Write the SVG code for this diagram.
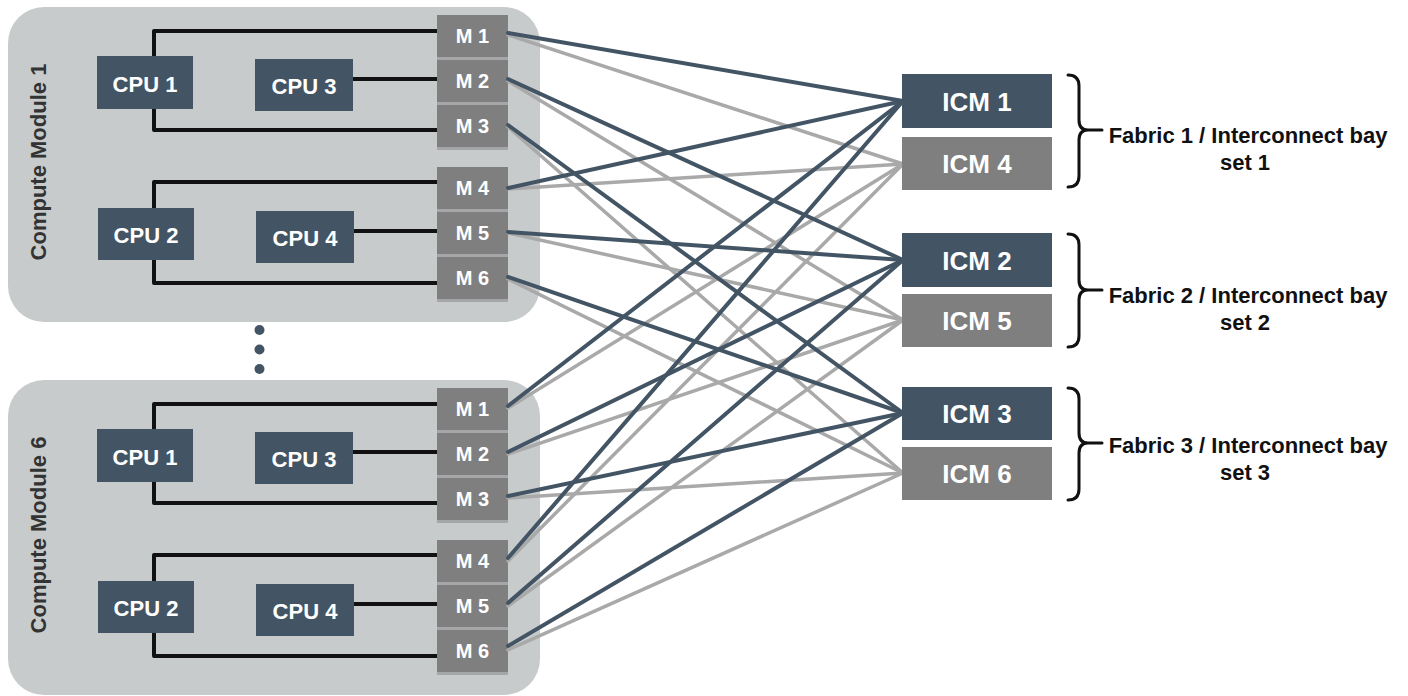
<svg xmlns="http://www.w3.org/2000/svg" width="1408" height="696" viewBox="0 0 1408 696">
  <style>
    .module { fill: #c8cbcc; }
    .cpu { fill: #435564; }
    .port { fill: #7f7f7f; }
    .port-shadow { fill: #a4a6a7; }
    .icm-a { fill: #435564; }
    .icm-b { fill: #7f7f7f; }
    .bus { fill: none; stroke: #111111; stroke-width: 4; stroke-linejoin: round; }
    .lbl { font-family: "Liberation Sans", Arial, sans-serif; font-weight: bold; fill: #ffffff; text-anchor: middle; }
    .cpu-t { font-size: 22px; }
    .port-t { font-size: 20px; }
    .icm-t { font-size: 26px; }
    .mod-t { font-family: "Liberation Sans", Arial, sans-serif; font-weight: bold; font-size: 22px; fill: #333333; text-anchor: middle; }
    .fab-t { font-family: "Liberation Sans", Arial, sans-serif; font-weight: bold; font-size: 22px; fill: #111111; text-anchor: middle; }
    .brace { fill: none; stroke: #111111; stroke-width: 3; stroke-linecap: round; stroke-linejoin: round; }
    .wire-dark { stroke: #435564; stroke-width: 4; stroke-linecap: round; }
    .wire-light { stroke: #a9a9a9; stroke-width: 3.5; stroke-linecap: round; }
    .dot { fill: #435564; }
  </style>
  <defs>
    <!-- one compute module: chassis and the buses from CPUs to mezzanine ports -->
    <g id="module-body">
      <rect class="module" x="8" y="7" width="532" height="315" rx="36" ry="36"/>
      <path class="bus" d="M437,31 H154 V60"/>
      <path class="bus" d="M154,105 V130 H437"/>
      <path class="bus" d="M350,79 H437"/>
      <path class="bus" d="M437,182 H154 V212"/>
      <path class="bus" d="M154,256 V283 H437"/>
      <path class="bus" d="M350,231 H437"/>
    </g>
  </defs>

  <!-- Compute Module 1 -->
  <g id="compute-module-1">
    <use href="#module-body"/>
    <text class="mod-t" transform="translate(45.5,162) rotate(-90)">Compute Module 1</text>
    <g id="cm1-cpu1"><rect class="cpu" x="97" y="56" width="96" height="53"/><text class="lbl cpu-t" x="145" y="91.5">CPU 1</text></g>
    <g id="cm1-cpu3"><rect class="cpu" x="255" y="59" width="98" height="52"/><text class="lbl cpu-t" x="304" y="94">CPU 3</text></g>
    <g id="cm1-cpu2"><rect class="cpu" x="98" y="208" width="96" height="52"/><text class="lbl cpu-t" x="146" y="243">CPU 2</text></g>
    <g id="cm1-cpu4"><rect class="cpu" x="256" y="211" width="98" height="52"/><text class="lbl cpu-t" x="305" y="246">CPU 4</text></g>
    <g id="cm1-m1"><rect class="port-shadow" x="437" y="17" width="71" height="43"/><rect class="port" x="437" y="15" width="71" height="42"/><text class="lbl port-t" x="472.5" y="43">M 1</text></g>
    <g id="cm1-m2"><rect class="port-shadow" x="437" y="62" width="71" height="43"/><rect class="port" x="437" y="60" width="71" height="42"/><text class="lbl port-t" x="472.5" y="88">M 2</text></g>
    <g id="cm1-m3"><rect class="port-shadow" x="437" y="107" width="71" height="43"/><rect class="port" x="437" y="105" width="71" height="42"/><text class="lbl port-t" x="472.5" y="133">M 3</text></g>
    <g id="cm1-m4"><rect class="port-shadow" x="437" y="169" width="71" height="43"/><rect class="port" x="437" y="167" width="71" height="42"/><text class="lbl port-t" x="472.5" y="195">M 4</text></g>
    <g id="cm1-m5"><rect class="port-shadow" x="437" y="214" width="71" height="43"/><rect class="port" x="437" y="212" width="71" height="42"/><text class="lbl port-t" x="472.5" y="240">M 5</text></g>
    <g id="cm1-m6"><rect class="port-shadow" x="437" y="259" width="71" height="43"/><rect class="port" x="437" y="257" width="71" height="42"/><text class="lbl port-t" x="472.5" y="285">M 6</text></g>
  </g>

  <!-- ellipsis between modules -->
  <g id="ellipsis">
    <circle class="dot" cx="259.5" cy="330" r="5"/>
    <circle class="dot" cx="259.5" cy="349.5" r="5"/>
    <circle class="dot" cx="259.5" cy="369" r="5"/>
  </g>

  <!-- Compute Module 6 -->
  <g id="compute-module-6" transform="translate(0,373)">
    <use href="#module-body"/>
    <text class="mod-t" transform="translate(45.5,162) rotate(-90)">Compute Module 6</text>
    <g id="cm6-cpu1"><rect class="cpu" x="97" y="56" width="96" height="53"/><text class="lbl cpu-t" x="145" y="91.5">CPU 1</text></g>
    <g id="cm6-cpu3"><rect class="cpu" x="255" y="59" width="98" height="52"/><text class="lbl cpu-t" x="304" y="94">CPU 3</text></g>
    <g id="cm6-cpu2"><rect class="cpu" x="98" y="208" width="96" height="52"/><text class="lbl cpu-t" x="146" y="243">CPU 2</text></g>
    <g id="cm6-cpu4"><rect class="cpu" x="256" y="211" width="98" height="52"/><text class="lbl cpu-t" x="305" y="246">CPU 4</text></g>
    <g id="cm6-m1"><rect class="port-shadow" x="437" y="17" width="71" height="43"/><rect class="port" x="437" y="15" width="71" height="42"/><text class="lbl port-t" x="472.5" y="43">M 1</text></g>
    <g id="cm6-m2"><rect class="port-shadow" x="437" y="62" width="71" height="43"/><rect class="port" x="437" y="60" width="71" height="42"/><text class="lbl port-t" x="472.5" y="88">M 2</text></g>
    <g id="cm6-m3"><rect class="port-shadow" x="437" y="107" width="71" height="43"/><rect class="port" x="437" y="105" width="71" height="42"/><text class="lbl port-t" x="472.5" y="133">M 3</text></g>
    <g id="cm6-m4"><rect class="port-shadow" x="437" y="169" width="71" height="43"/><rect class="port" x="437" y="167" width="71" height="42"/><text class="lbl port-t" x="472.5" y="195">M 4</text></g>
    <g id="cm6-m5"><rect class="port-shadow" x="437" y="214" width="71" height="43"/><rect class="port" x="437" y="212" width="71" height="42"/><text class="lbl port-t" x="472.5" y="240">M 5</text></g>
    <g id="cm6-m6"><rect class="port-shadow" x="437" y="259" width="71" height="43"/><rect class="port" x="437" y="257" width="71" height="42"/><text class="lbl port-t" x="472.5" y="285">M 6</text></g>
  </g>

  <!-- port-to-interconnect links: light to ICM 4/5/6, dark to ICM 1/2/3 -->
  <g id="connectors">
    <line class="wire-light" x1="508" y1="35" x2="903" y2="164"/>
    <line class="wire-light" x1="508" y1="81" x2="903" y2="320"/>
    <line class="wire-light" x1="508" y1="127" x2="903" y2="473"/>
    <line class="wire-light" x1="508" y1="189" x2="903" y2="164"/>
    <line class="wire-light" x1="508" y1="233" x2="903" y2="320"/>
    <line class="wire-light" x1="508" y1="279" x2="903" y2="473"/>
    <line class="wire-light" x1="508" y1="408" x2="903" y2="164"/>
    <line class="wire-light" x1="508" y1="454" x2="903" y2="320"/>
    <line class="wire-light" x1="508" y1="498" x2="903" y2="473"/>
    <line class="wire-light" x1="508" y1="561" x2="903" y2="164"/>
    <line class="wire-light" x1="508" y1="606" x2="903" y2="320"/>
    <line class="wire-light" x1="508" y1="650" x2="903" y2="473"/>

    <line class="wire-dark" x1="508" y1="33" x2="903" y2="101"/>
    <line class="wire-dark" x1="508" y1="79" x2="903" y2="260"/>
    <line class="wire-dark" x1="508" y1="125" x2="903" y2="413"/>
    <line class="wire-dark" x1="508" y1="188" x2="903" y2="101"/>
    <line class="wire-dark" x1="508" y1="232" x2="903" y2="260"/>
    <line class="wire-dark" x1="508" y1="277" x2="903" y2="413"/>
    <line class="wire-dark" x1="508" y1="406" x2="903" y2="101"/>
    <line class="wire-dark" x1="508" y1="452" x2="903" y2="260"/>
    <line class="wire-dark" x1="508" y1="496" x2="903" y2="413"/>
    <line class="wire-dark" x1="508" y1="558" x2="903" y2="101"/>
    <line class="wire-dark" x1="508" y1="603" x2="903" y2="260"/>
    <line class="wire-dark" x1="508" y1="646" x2="903" y2="413"/>
  </g>

  <!-- interconnect modules -->
  <g id="icm1"><rect class="icm-a" x="902" y="74" width="150" height="54"/><text class="lbl icm-t" x="977" y="111">ICM 1</text></g>
  <g id="icm4"><rect class="icm-b" x="902" y="137" width="150" height="53"/><text class="lbl icm-t" x="977" y="173">ICM 4</text></g>
  <g id="icm2"><rect class="icm-a" x="902" y="233" width="150" height="54"/><text class="lbl icm-t" x="977" y="270">ICM 2</text></g>
  <g id="icm5"><rect class="icm-b" x="902" y="294" width="150" height="53"/><text class="lbl icm-t" x="977" y="330">ICM 5</text></g>
  <g id="icm3"><rect class="icm-a" x="902" y="387" width="150" height="53"/><text class="lbl icm-t" x="977" y="423">ICM 3</text></g>
  <g id="icm6"><rect class="icm-b" x="902" y="447" width="150" height="53"/><text class="lbl icm-t" x="977" y="483">ICM 6</text></g>

  <!-- fabric groupings -->
  <g id="fabric-1">
    <path class="brace" d="M1068,75 Q1079,75 1079,86 V120 Q1079,130 1088,130 H1102 M1088,130 Q1079,130 1079,140 V176 Q1079,187 1068,187"/>
    <text class="fab-t" x="1248" y="143">Fabric 1 / Interconnect bay</text>
    <text class="fab-t" x="1245" y="170">set 1</text>
  </g>
  <g id="fabric-2">
    <path class="brace" d="M1068,234 Q1079,234 1079,245 V280 Q1079,290 1088,290 H1102 M1088,290 Q1079,290 1079,300 V336 Q1079,347 1068,347"/>
    <text class="fab-t" x="1248" y="303">Fabric 2 / Interconnect bay</text>
    <text class="fab-t" x="1245" y="330">set 2</text>
  </g>
  <g id="fabric-3">
    <path class="brace" d="M1068,388 Q1079,388 1079,399 V433 Q1079,443 1088,443 H1102 M1088,443 Q1079,443 1079,453 V489 Q1079,500 1068,500"/>
    <text class="fab-t" x="1248" y="453">Fabric 3 / Interconnect bay</text>
    <text class="fab-t" x="1245" y="480">set 3</text>
  </g>
</svg>
